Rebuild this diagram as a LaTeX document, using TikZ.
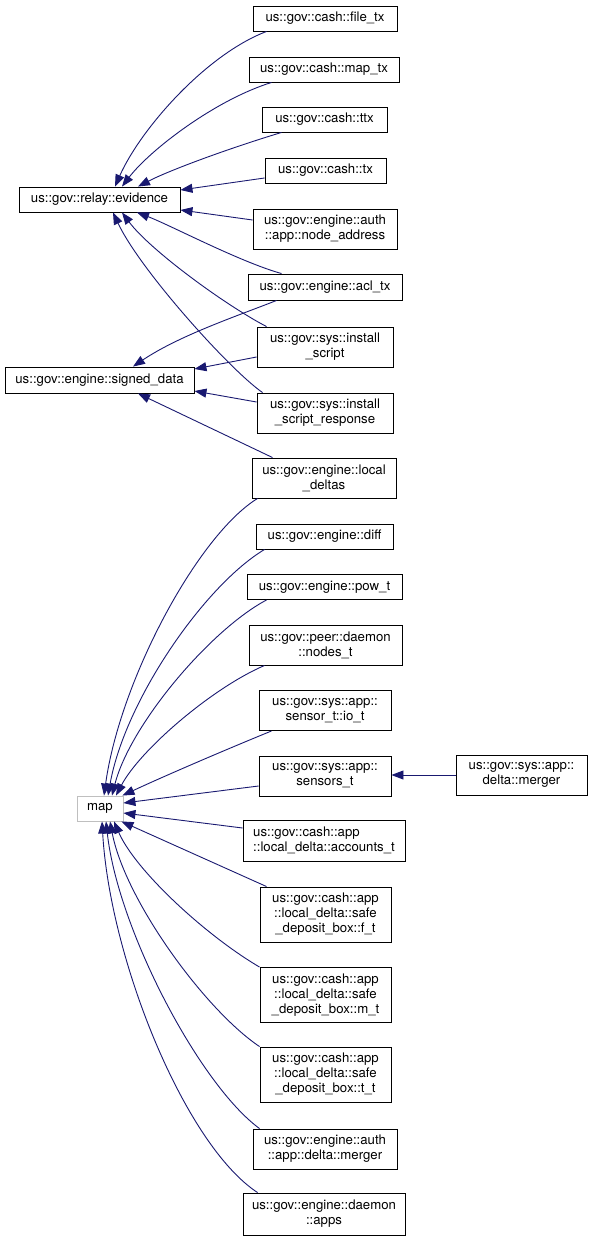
\documentclass[tikz,border=0pt]{standalone}
\usepackage{fontspec}
\setmainfont{TeX Gyre Heros}
\usetikzlibrary{arrows.meta,calc}
\definecolor{navy}{HTML}{191970}
\definecolor{mapgray}{HTML}{BFBFBF}
\newcommand\dxfont{\fontsize{13.2}{15}\selectfont}
\tikzset{
  box/.style={draw=black, line width=0.9pt, fill=white, inner sep=0pt, align=center, font=\dxfont},
  graybox/.style={box, draw=mapgray},
  edge/.style={draw=navy, line width=0.9pt, -{Triangle[length=12pt,width=9pt]}},
}
\begin{document}
\begin{tikzpicture}[x=1pt,y=-1pt]
\useasboundingbox (0,0) rectangle (592,1239);
% parents
\node[box, minimum width=161pt, minimum height=25pt] (evidence) at (99.5,199.5) {us::gov::relay::evidence};
\node[box, minimum width=189pt, minimum height=26pt] (signed) at (99.5,380) {us::gov::engine::signed\_data};
\node[graybox, minimum width=46pt, minimum height=25pt] (map) at (100,808.5) {map};
% children
\node[box, minimum width=144pt, minimum height=25pt] (filetx) at (325,18.5) {us::gov::cash::file\_tx};
\node[box, minimum width=150pt, minimum height=25pt] (maptx) at (324,69.5) {us::gov::cash::map\_tx};
\node[box, minimum width=125pt, minimum height=25pt] (ttx) at (324.5,119.5) {us::gov::cash::ttx};
\node[box, minimum width=121pt, minimum height=25pt] (tx) at (325.5,170.5) {us::gov::cash::tx};
\node[box, minimum width=144pt, minimum height=40pt] (nodeaddr) at (325,229) {us::gov::engine::auth\\::app::node\_address};
\node[box, minimum width=154pt, minimum height=26pt] (acltx) at (325,287) {us::gov::engine::acl\_tx};
\node[box, minimum width=136pt, minimum height=40pt] (instscript) at (325,347) {us::gov::sys::install\\\_script};
\node[box, minimum width=136pt, minimum height=40pt] (instresp) at (325,413) {us::gov::sys::install\\\_script\_response};
\node[box, minimum width=144pt, minimum height=40pt] (localdeltas) at (324,478) {us::gov::engine::local\\\_deltas};
\node[box, minimum width=137pt, minimum height=25pt] (diff) at (324.5,536.5) {us::gov::engine::diff};
\node[box, minimum width=155pt, minimum height=25pt] (powt) at (324.5,587) {us::gov::engine::pow\_t};
\node[box, minimum width=153pt, minimum height=40pt] (nodest) at (325.5,645) {us::gov::peer::daemon\\::nodes\_t};
\node[box, minimum width=132pt, minimum height=40pt] (iot) at (325,710.5) {us::gov::sys::app::\\sensor\_t::io\_t};
\node[box, minimum width=132pt, minimum height=40pt] (sensorst) at (325,776) {us::gov::sys::app::\\sensors\_t};
\node[box, minimum width=131pt, minimum height=40pt] (deltamerger) at (521.5,775) {us::gov::sys::app::\\delta::merger};
\node[box, align=left, minimum width=162pt, minimum height=41pt] (accounts) at (324,840.5) {us::gov::cash::app\\::local\_delta::accounts\_t};
\node[box, minimum width=131pt, minimum height=55pt] (ft) at (325.5,914.5) {us::gov::cash::app\\::local\_delta::safe\\\_deposit\_box::f\_t};
\node[box, minimum width=131pt, minimum height=55pt] (mt) at (325.5,995) {us::gov::cash::app\\::local\_delta::safe\\\_deposit\_box::m\_t};
\node[box, minimum width=131pt, minimum height=55pt] (tt) at (325.5,1074.5) {us::gov::cash::app\\::local\_delta::safe\\\_deposit\_box::t\_t};
\node[box, minimum width=144pt, minimum height=40pt] (authmerger) at (325,1149) {us::gov::engine::auth\\::app::delta::merger};
\node[box, minimum width=162pt, minimum height=42pt] (apps) at (324,1214) {us::gov::engine::daemon\\::apps};
% edges to evidence
\draw[edge] ($(filetx.south west)+(14,0)$) .. controls (205,55) and (140,130) .. ($(evidence.north)+(15.5,0)$);
\draw[edge] ($(maptx.south west)+(23,0)$) .. controls (215,100) and (150,150) .. ($(evidence.north)+(22.5,0)$);
\draw[edge] ($(ttx.south west)+(20,0)$) .. controls (230,148) and (170,170) .. ($(evidence.north)+(38.5,0)$);
\draw[edge] ($(tx.west)+(0,7.5)$) -- ($(evidence.east)+(0,-9.5)$);
\draw[edge] ($(nodeaddr.west)+(0,-9)$) -- ($(evidence.east)+(0,10.5)$);
\draw[edge] ($(acltx.north west)+(34,0)$) .. controls (240,262) and (170,225) .. ($(evidence.south)+(37.5,0)$);
\draw[edge] ($(instscript.north west)+(10,0)$) .. controls (225,305) and (150,250) .. ($(evidence.south)+(22.5,0)$);
\draw[edge] ($(instresp.north west)+(6,0)$) .. controls (230,370) and (140,270) .. ($(evidence.south)+(13.5,0)$);
% edges to signed_data
\draw[edge] ($(acltx.south west)+(29,0)$) .. controls (240,315) and (180,335) .. ($(signed.north)+(33.5,0)$);
\draw[edge] ($(instscript.west)+(0,10)$) -- ($(signed.east)+(0,-11)$);
\draw[edge] ($(instresp.west)+(0,-11)$) -- ($(signed.east)+(0,11)$);
\draw[edge] ($(localdeltas.north west)+(21,0)$) -- ($(signed.south)+(38.5,0)$);
% edges to map
\draw[edge] ($(localdeltas.south west)+(6,0)$) .. controls (198,535) and (120,680) .. ($(map.north)+(4,0)$);
\draw[edge] ($(diff.south west)+(9,0)$) .. controls (205,585) and (125,700) .. ($(map.north)+(8,0)$);
\draw[edge] ($(powt.south west)+(20,0)$) .. controls (210,630) and (130,725) .. ($(map.north)+(12,0)$);
\draw[edge] ($(nodest.south west)+(16,0)$) .. controls (212,688) and (140,750) .. ($(map.north)+(16,0)$);
\draw[edge] ($(iot.south west)+(13,0)$) .. controls (220,752) and (160,778) .. ($(map.north east)+(-1,0)$);
\draw[edge] ($(sensorst.west)+(0,10)$) -- ($(map.east)+(0,-5.5)$);
\draw[edge] ($(accounts.west)+(0,-12.5)$) -- ($(map.east)+(0,4.5)$);
\draw[edge] ($(ft.north west)+(7,0)$) -- ($(map.south east)+(-2,0)$);
\draw[edge] (mt.north west) .. controls (205,935) and (135,870) .. ($(map.south)+(14,0)$);
\draw[edge] (tt.north west) .. controls (205,1010) and (125,900) .. ($(map.south)+(10,0)$);
\draw[edge] ($(authmerger.north west)+(7,0)$) .. controls (200,1085) and (118,930) .. ($(map.south)+(6,0)$);
\draw[edge] ($(apps.north west)+(15,0)$) .. controls (185,1145) and (110,960) .. ($(map.south)+(2,0)$);
% delta merger to sensors
\draw[edge] (deltamerger.west) -- (sensorst.east |- deltamerger.west);
\end{tikzpicture}
\end{document}
